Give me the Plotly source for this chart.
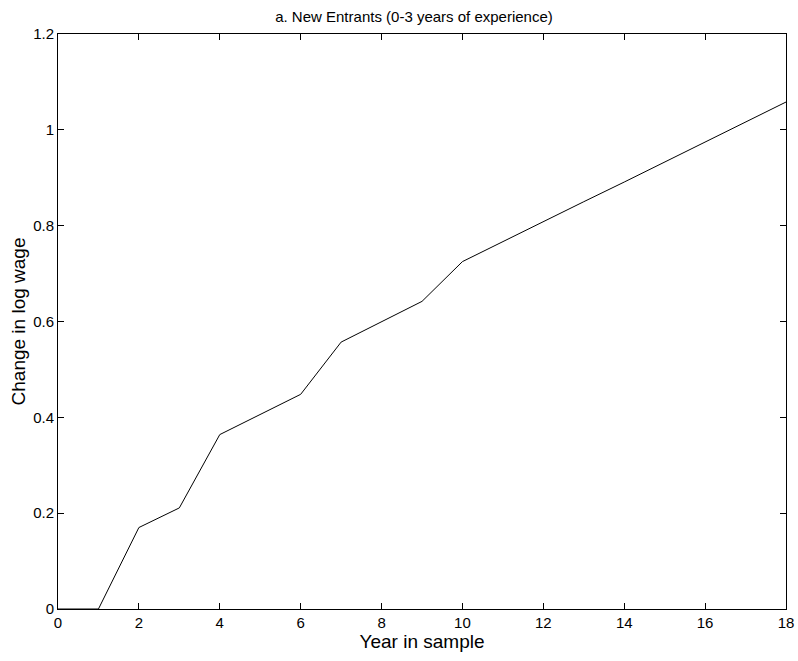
import plotly.graph_objects as go

years = [0, 1, 2, 3, 4, 5, 6, 7, 8, 9, 10, 11, 12, 13, 14, 15, 16, 17, 18]
log_wage_change = [0.0, 0.0, 0.170, 0.211, 0.364, 0.406, 0.448, 0.557, 0.600, 0.642,
                   0.725, 0.767, 0.808, 0.850, 0.891, 0.933, 0.975, 1.016, 1.058]
x_ticks = [0, 2, 4, 6, 8, 10, 12, 14, 16, 18]
y_ticks = [0, 0.2, 0.4, 0.6, 0.8, 1, 1.2]
y_tick_labels = ["0", "0.2", "0.4", "0.6", "0.8", "1", "1.2"]

fig = go.Figure()
fig.add_trace(go.Scatter(x=years, y=log_wage_change, mode="lines",
                         line=dict(color="black", width=1), showlegend=False,
                         hoverinfo="skip"))

font = "Liberation Sans, Arial, Helvetica, sans-serif"
axis_common = dict(showgrid=False, zeroline=False, showline=True, linecolor="black",
                   linewidth=1, mirror="ticks", ticks="inside", ticklen=6,
                   tickcolor="black", tickwidth=1, automargin=False,
                   tickfont=dict(family=font, size=15, color="black"))

fig.update_layout(
    width=798, height=661,
    paper_bgcolor="white", plot_bgcolor="white",
    margin=dict(l=58, r=12, t=34, b=52),
    title=dict(text="a. New Entrants (0-3 years of experience)", x=0.489, xref="paper",
               xanchor="center", y=1 - 17 / 661, yref="container", yanchor="middle",
               font=dict(family=font, size=15, color="black")),
    xaxis=dict(range=[0, 18], tickvals=x_ticks,
               title=dict(text="Year in sample", standoff=3,
                          font=dict(family=font, size=19, color="black")),
               **axis_common),
    yaxis=dict(range=[0, 1.2], tickvals=y_ticks, ticktext=y_tick_labels,
               title=dict(text="Change in log wage", standoff=2,
                          font=dict(family=font, size=19, color="black")),
               **axis_common),
)

fig.write_html("out.html",
               config={"displayModeBar": False},
               post_script="document.body.style.margin='0';document.body.style.overflow='hidden';")
